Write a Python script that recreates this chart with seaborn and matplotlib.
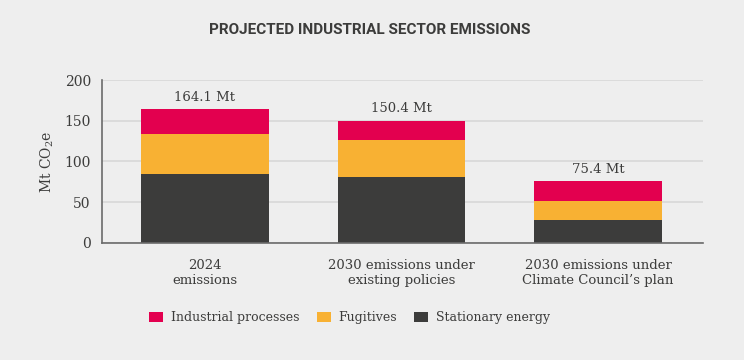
import pandas as pd
import matplotlib.pyplot as plt
import seaborn as sns

# Values (Mt CO2e)
categories = ["2024\nemissions",
              "2030 emissions under\nexisting policies",
              "2030 emissions under\nClimate Council\u2019s plan"]
stationary = [85.0, 81.0, 28.0]
fugitives = [49.0, 46.0, 23.5]
industrial = [30.1, 23.4, 23.9]
totals = [164.1, 150.4, 75.4]
series_names = ["Industrial processes", "Fugitives", "Stationary energy"]
colors = ["#E3004F", "#F8B133", "#3C3C3B"]

df = pd.DataFrame({
    "category": categories,
    "Stationary energy": stationary,
    "Fugitives": fugitives,
    "Industrial processes": industrial,
})
# cumulative heights for stacking (drawn back to front)
df["c_stat"] = df["Stationary energy"]
df["c_fug"] = df["c_stat"] + df["Fugitives"]
df["c_ind"] = df["c_fug"] + df["Industrial processes"]

bg = "#EEEEEE"
sns.set_style("white")
plt.rcParams["font.family"] = ["DejaVu Serif"]
plt.rcParams["mathtext.fontset"] = "custom"
plt.rcParams["mathtext.rm"] = "DejaVu Serif"

fig = plt.figure(figsize=(7.44, 3.6), dpi=100, facecolor=bg)
ax = fig.add_axes([0.137, 0.326, 0.808, 0.451], facecolor=bg)

for col, name, c in zip(["c_ind", "c_fug", "c_stat"], series_names, colors):
    sns.barplot(data=df, x="category", y=col, color=c, width=0.65,
                ax=ax, label=name, saturation=1, linewidth=0)

# value labels
for i, t in enumerate(totals):
    ax.annotate(f"{t} Mt", (i, df["c_ind"][i]), xytext=(0, 4),
                textcoords="offset points", ha="center", va="bottom",
                fontsize=9.5, color="#3C3C3B")

ax.set_ylim(0, 200)
ax.set_xlim(-0.524, 2.534)
ax.set_yticks([0, 50, 100, 150, 200])
ax.yaxis.grid(True, color="#D8D8D8", linewidth=1.2)
ax.set_axisbelow(True)
for s in ["top", "right"]:
    ax.spines[s].set_visible(False)
for s in ["left", "bottom"]:
    ax.spines[s].set_color("#6A6A6A")
    ax.spines[s].set_linewidth(1.2)
ax.tick_params(axis="y", length=6, color="#6A6A6A", width=1.2,
               labelsize=10, labelcolor="#3C3C3B", pad=2)
ax.tick_params(axis="x", length=0, labelsize=9.5, labelcolor="#3C3C3B", pad=12)
ax.set_xlabel("")
ax.set_ylabel(r"Mt CO$_\mathregular{2}$e", fontsize=10, color="#3C3C3B", labelpad=6)

fig.text(0.497, 0.917, "PROJECTED INDUSTRIAL SECTOR EMISSIONS",
         ha="center", va="center", fontsize=11, fontweight="bold",
         color="#3C3C3B", family="Roboto", fontstretch="condensed")

handles, labels = ax.get_legend_handles_labels()
if ax.legend_ is not None:
    ax.legend_.remove()
leg = fig.legend(handles, labels, loc="center", bbox_to_anchor=(0.47, 0.117),
                 ncol=3, frameon=False, fontsize=9, handlelength=1.12,
                 handleheight=0.95, handletextpad=0.64, columnspacing=1.36,
                 labelcolor="#3C3C3B")

fig.savefig("out.png", dpi=100, facecolor=bg)
